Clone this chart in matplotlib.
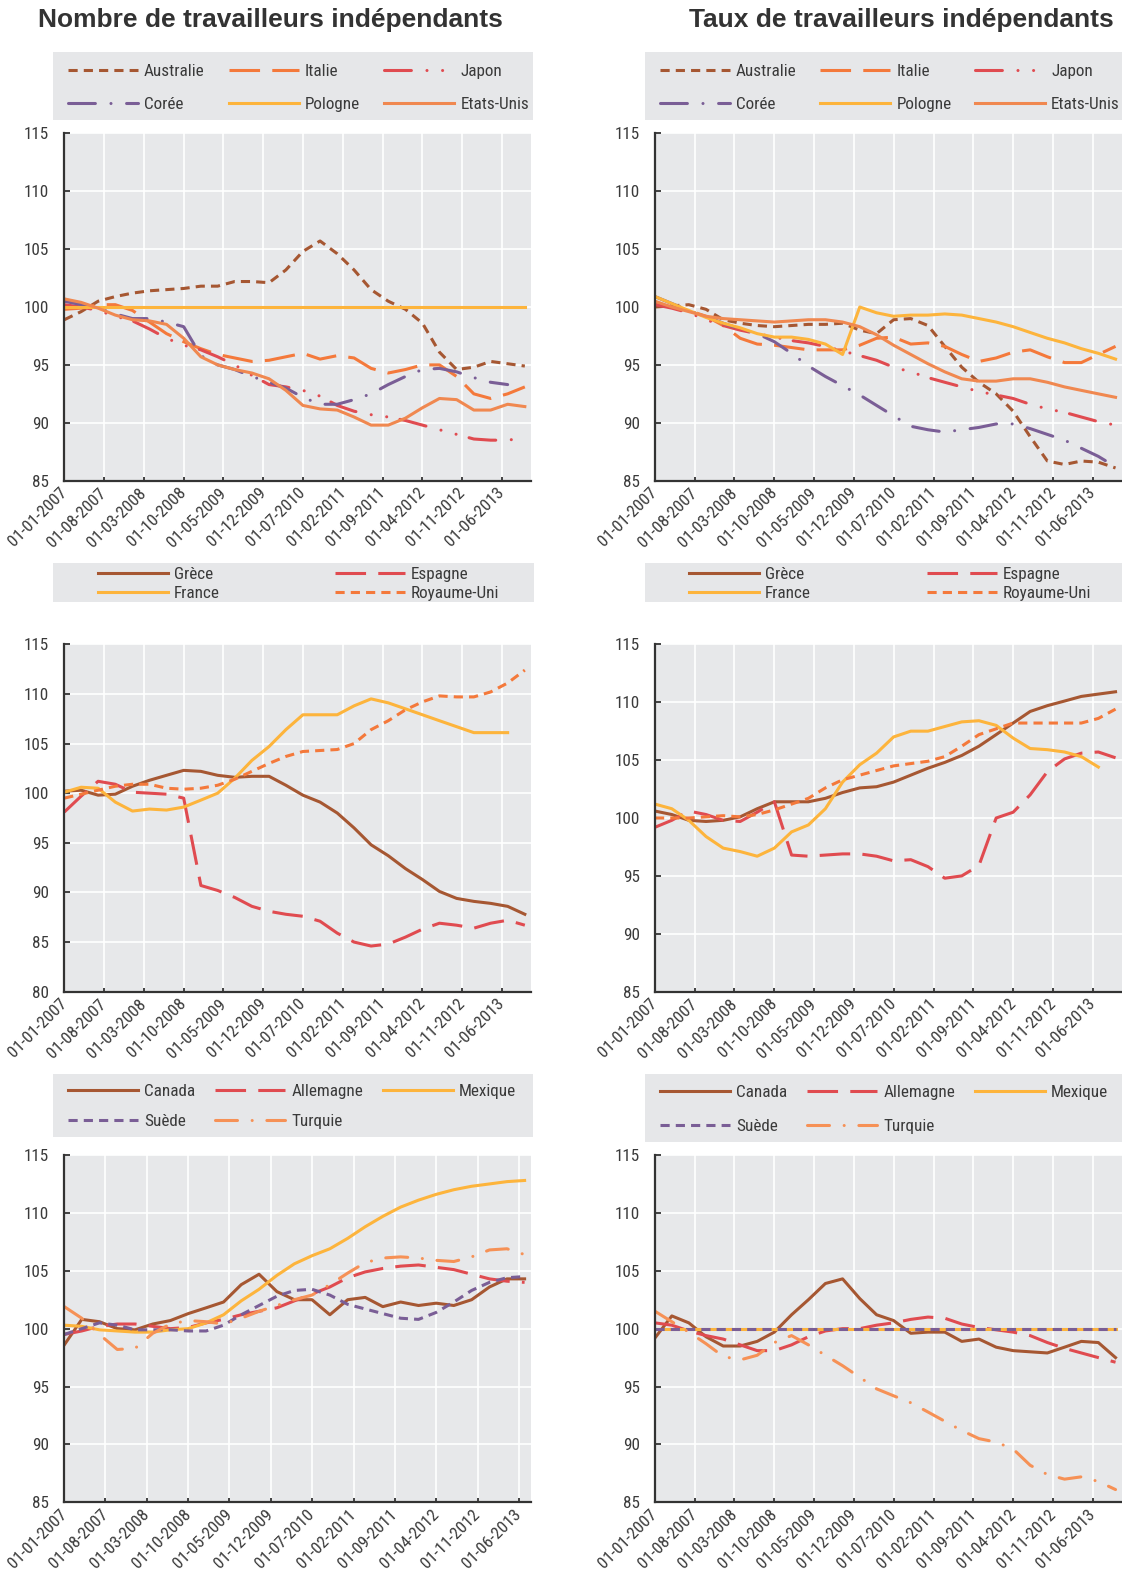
import numpy as np
import pandas as pd
import matplotlib
matplotlib.use("Agg")
import matplotlib.pyplot as plt
from matplotlib import font_manager as fm
from matplotlib.patches import Rectangle
from matplotlib.transforms import ScaledTranslation

# ---------------- fonts ----------------
names = {f.name for f in fm.fontManager.ttflist}
NARROW = next((n for n in ["Liberation Sans Narrow", "Arial Narrow", "Roboto Condensed",
                           "Open Sans Condensed"] if n in names), None)
REG = "Liberation Sans" if "Liberation Sans" in names else "DejaVu Sans"
BODY = NARROW if NARROW else REG
FS = 12.3 if NARROW else 10.3
plt.rcParams["font.family"] = [BODY, "DejaVu Sans"]

# ---------------- data ----------------
dates = pd.date_range("2007-01-01", periods=28, freq="QS")
dates27 = dates[:27]
tick_dates = pd.date_range("2007-01-01", periods=12, freq="7MS")
tick_labels = [d.strftime("%d-%m-%Y") for d in tick_dates]

# Panel 1 : Nombre (group 1)
aus_n = [98.9, 99.6, 100.5, 100.9, 101.2, 101.4, 101.5, 101.6, 101.8, 101.8, 102.2, 102.2, 102.1, 103.2,
         104.8, 105.7, 104.6, 103.2, 101.5, 100.5, 99.8, 98.6, 96.1, 94.6, 94.8, 95.3, 95.1, 94.9]
ita_n = [99.8, 99.9, 100.2, 100.2, 99.7, 98.7, 97.7, 97.0, 96.4, 95.9, 95.6, 95.3, 95.4, 95.7,
         96.0, 95.5, 95.8, 95.6, 94.7, 94.3, 94.6, 95.0, 95.0, 94.0, 92.5, 92.1, 92.5, 93.1]
jap_n = [100.2, 100.0, 99.7, 99.2, 98.8, 98.1, 97.3, 96.7, 96.3, 95.7, 95.0, 94.1, 93.3, 93.1,
         92.8, 92.3, 91.5, 91.0, 90.7, 90.5, 90.2, 89.8, 89.4, 89.0, 88.6, 88.5, 88.5, 88.7]
kor_n = [100.5, 100.2, 99.9, 99.4, 99.0, 99.0, 98.7, 98.3, 95.8, 95.0, 94.6, 94.0, 93.5, 93.0,
         92.2, 91.6, 91.6, 92.0, 92.5, 93.3, 94.0, 94.6, 94.7, 94.4, 93.9, 93.5, 93.3, np.nan]
pol_n = [100.0] * 28
usa_n = [100.7, 100.4, 99.9, 99.3, 98.9, 98.8, 98.5, 97.3, 95.7, 95.0, 94.6, 94.3, 93.8, 92.8,
         91.5, 91.2, 91.1, 90.5, 89.8, 89.8, 90.4, 91.3, 92.1, 92.0, 91.1, 91.1, 91.6, 91.4]

# Panel 2 : Taux (group 1)
aus_t = [100.0, 100.1, 100.2, 99.8, 98.9, 98.6, 98.4, 98.3, 98.4, 98.5, 98.5, 98.6, 98.0, 97.7,
         98.9, 99.0, 98.4, 96.6, 94.8, 93.5, 92.5, 91.0, 88.8, 86.7, 86.4, 86.7, 86.6, 86.1]
ita_t = [100.3, 100.0, 99.7, 99.2, 98.4, 97.3, 96.8, 96.7, 96.5, 96.3, 96.3, 96.3, 96.7, 97.3,
         97.4, 96.8, 96.9, 96.6, 95.9, 95.3, 95.6, 96.1, 96.3, 95.7, 95.2, 95.2, 95.9, 96.6]
jap_t = [100.2, 99.9, 99.5, 98.9, 98.4, 98.0, 97.7, 97.4, 97.1, 96.9, 96.6, 96.2, 95.8, 95.4,
         94.8, 94.4, 93.9, 93.5, 93.1, 92.7, 92.4, 92.1, 91.6, 91.2, 90.9, 90.5, 90.1, 89.8]
kor_t = [100.9, 100.3, 99.7, 99.2, 98.6, 98.1, 97.7, 97.0, 96.0, 94.9, 94.0, 93.2, 92.4, 91.5,
         90.6, 89.7, 89.4, 89.2, 89.4, 89.6, 89.9, 89.9, 89.5, 89.0, 88.5, 87.8, 87.1, 86.2]
pol_t = [100.9, 100.3, 99.7, 99.1, 98.6, 98.2, 97.7, 97.4, 97.4, 97.2, 96.8, 95.9, 100.0, 99.5,
         99.2, 99.3, 99.3, 99.4, 99.3, 99.0, 98.7, 98.3, 97.8, 97.3, 96.9, 96.4, 96.0, 95.5]
usa_t = [100.5, 100.0, 99.6, 99.2, 99.0, 98.9, 98.8, 98.7, 98.8, 98.9, 98.9, 98.7, 98.3, 97.6,
         96.7, 95.9, 95.1, 94.4, 93.8, 93.6, 93.6, 93.8, 93.8, 93.5, 93.1, 92.8, 92.5, 92.2]

# Panel 3 : Nombre (group 2)
gre_n = [100.2, 100.3, 99.8, 99.9, 100.7, 101.3, 101.8, 102.3, 102.2, 101.8, 101.6, 101.7, 101.7, 100.8,
         99.8, 99.1, 98.0, 96.5, 94.8, 93.7, 92.4, 91.3, 90.1, 89.4, 89.1, 88.9, 88.6, 87.8]
esp_n = [98.1, 99.7, 101.2, 100.9, 100.1, 100.0, 99.9, 99.5, 90.7, 90.2, 89.5, 88.6, 88.1, 87.8,
         87.6, 87.1, 85.9, 85.0, 84.6, 84.8, 85.5, 86.3, 86.9, 86.7, 86.4, 86.9, 87.2, 86.7]
fra_n = [100.1, 100.6, 100.5, 99.1, 98.2, 98.4, 98.3, 98.6, 99.3, 100.0, 101.5, 103.3, 104.7, 106.4,
         107.9, 107.9, 107.9, 108.8, 109.5, 109.1, 108.5, 107.9, 107.3, 106.7, 106.1, 106.1, 106.1, np.nan]
uk_n = [99.5, 99.9, 100.3, 100.7, 100.9, 100.9, 100.5, 100.4, 100.5, 100.8, 101.4, 102.2, 103.0, 103.7,
        104.2, 104.3, 104.4, 105.0, 106.4, 107.3, 108.4, 109.2, 109.8, 109.7, 109.7, 110.2, 111.1, 112.4]

# Panel 4 : Taux (group 2)
gre_t = [100.6, 100.3, 99.8, 99.7, 99.8, 100.1, 100.8, 101.4, 101.4, 101.4, 101.7, 102.2, 102.6, 102.7,
         103.1, 103.7, 104.3, 104.8, 105.4, 106.2, 107.2, 108.2, 109.2, 109.7, 110.1, 110.5, 110.7, 110.9]
esp_t = [99.2, 99.8, 100.6, 100.3, 99.8, 99.7, 100.5, 101.4, 96.8, 96.7, 96.8, 96.9, 96.9, 96.7,
         96.3, 96.4, 95.8, 94.8, 95.0, 95.9, 100.0, 100.5, 102.0, 104.0, 105.1, 105.6, 105.7, 105.2]
fra_t = [101.2, 100.8, 99.8, 98.4, 97.4, 97.1, 96.7, 97.4, 98.8, 99.4, 100.8, 103.1, 104.6, 105.6,
         107.0, 107.5, 107.5, 107.9, 108.3, 108.4, 108.0, 106.9, 106.0, 105.9, 105.7, 105.3, 104.4, np.nan]
uk_t = [100.0, 100.0, 100.0, 100.1, 100.2, 100.1, 100.3, 100.7, 101.2, 101.7, 102.6, 103.3, 103.7, 104.1,
        104.5, 104.7, 104.9, 105.3, 106.2, 107.2, 107.7, 108.2, 108.2, 108.2, 108.2, 108.2, 108.6, 109.4]

# Panel 5 : Nombre (group 3), 27 quarters
can_n = [98.6, 100.8, 100.6, 100.0, 99.9, 100.4, 100.7, 101.3, 101.8, 102.3, 103.8, 104.7, 103.2, 102.5,
         102.5, 101.2, 102.5, 102.7, 101.9, 102.3, 102.0, 102.2, 102.0, 102.5, 103.6, 104.3, 104.3]
all_n = [99.5, 99.8, 100.2, 100.4, 100.4, 100.2, 100.0, 100.1, 100.5, 100.8, 101.2, 101.5, 101.8, 102.4,
         103.0, 103.6, 104.4, 104.9, 105.2, 105.4, 105.5, 105.3, 105.1, 104.7, 104.3, 104.1, 104.0]
mex_n = [100.3, 100.2, 99.9, 99.8, 99.7, 99.7, 99.9, 100.0, 100.5, 101.2, 102.4, 103.4, 104.6, 105.6,
         106.3, 106.9, 107.8, 108.8, 109.7, 110.5, 111.1, 111.6, 112.0, 112.3, 112.5, 112.7, 112.8]
swe_n = [99.5, 100.0, 100.5, 100.3, 99.9, 99.9, 99.9, 99.8, 99.8, 100.3, 101.2, 102.0, 102.8, 103.3,
         103.4, 102.9, 102.1, 101.7, 101.3, 100.9, 100.8, 101.4, 102.3, 103.3, 104.0, 104.4, 104.5]
tur_n = [101.9, 100.9, 99.5, 98.2, 98.3, 99.6, 100.4, 100.7, 100.6, 100.4, 100.9, 101.5, 102.0, 102.5,
         102.9, 103.8, 104.8, 105.7, 106.1, 106.2, 106.1, 105.9, 105.8, 106.2, 106.8, 106.9, 106.4]

# Panel 6 : Taux (group 3)
can_t = [99.2, 101.1, 100.5, 99.3, 98.5, 98.5, 98.9, 99.7, 101.2, 102.5, 103.9, 104.3, 102.6, 101.2,
         100.7, 99.6, 99.7, 99.7, 98.9, 99.1, 98.4, 98.1, 98.0, 97.9, 98.4, 98.9, 98.8, 97.5]
all_t = [100.5, 100.3, 99.8, 99.4, 99.1, 98.6, 98.1, 98.1, 98.6, 99.3, 99.8, 100.0, 100.0, 100.3,
         100.5, 100.8, 101.0, 100.9, 100.4, 100.1, 99.9, 99.7, 99.4, 98.8, 98.3, 97.9, 97.5, 97.1]
mex_t = [100.0] * 28
swe_t = [100.0] * 28
tur_t = [101.5, 100.6, 99.7, 98.7, 97.6, 97.3, 97.7, 98.8, 99.4, 98.6, 97.7, 96.8, 95.8, 94.8,
         94.2, 93.6, 92.8, 92.0, 91.2, 90.5, 90.2, 89.6, 88.2, 87.4, 87.0, 87.2, 86.8, 86.1]

titles = ["Nombre de travailleurs indépendants", "Taux de travailleurs indépendants"]

# ---------------- styles ----------------
BROWN = "#a65732"
ORANGE = "#f4793b"
RED = "#e04b50"
PURPLE = "#7a5e96"
YELLOW = "#fdb43c"
ORANGE2 = "#f08850"
LORANGE = "#f69156"
BG = "#e7e8ea"
LEGBG = "#e6e7e9"
DARK = "#333333"
TXT = "#3a3a3a"
LW = 2.2

SHORT = dict(dashes=[3, 2])
LONG = dict(dashes=[10, 4])
DASHDOT2 = dict(dashes=[8.8, 5.1, 0.01, 5.1, 0.01, 4.4], dash_capstyle="round")
DASHDOT = dict(dashes=[8.8, 5.1, 0.01, 5.1], dash_capstyle="round")
DASHDOT_T = dict(dashes=[7.2, 4.8, 0.01, 4.8], dash_capstyle="round")
SOLID = dict()

W, H = 1122, 1574
fig = plt.figure(figsize=(W / 100, H / 100), dpi=100)

START = pd.Timestamp("2007-01-01")
END_A = pd.Timestamp("2013-11-03")
END_B = pd.Timestamp("2013-08-03")

AXW = 466.7


def make_ax(left, top, bottom):
    return fig.add_axes([left / W, 1 - bottom / H, AXW / W, (bottom - top) / H])


def style(ax, ylim, xend):
    ax.set_facecolor(BG)
    ax.set_ylim(*ylim)
    ax.set_yticks(np.arange(ylim[0], ylim[1] + 1, 5))
    ax.set_xlim(START, xend)
    ax.set_xticks(tick_dates)
    ax.set_xticklabels(tick_labels, rotation=45, ha="right", va="center",
                       rotation_mode="anchor")
    shift = ScaledTranslation(3 / 100, 0, fig.dpi_scale_trans)
    for lab in ax.get_xticklabels():
        lab.set_transform(lab.get_transform() + shift)
    ax.grid(True, color="white", lw=1.2)
    ax.set_axisbelow(True)
    for s in ["top", "right"]:
        ax.spines[s].set_visible(False)
    for s in ["left", "bottom"]:
        ax.spines[s].set_color(DARK)
        ax.spines[s].set_linewidth(1.6)
    ax.tick_params(axis="x", direction="in", length=3, width=1.3, color=DARK, pad=7,
                   labelsize=FS, labelcolor=TXT)
    ax.tick_params(axis="y", direction="in", length=4.5, width=1.3, color=DARK, pad=10.8,
                   labelsize=FS, labelcolor=TXT)


def draw(ax, x, series):
    hs = {}
    for name, vals, color, st in series:
        (h,) = ax.plot(x, vals, color=color, lw=LW, label=name, **st)
        hs[name] = h
    return hs


def legend_box(x0, x1, y0, y1):
    fig.add_artist(Rectangle((x0 / W, 1 - y1 / H), (x1 - x0) / W, (y1 - y0) / H,
                             transform=fig.transFigure, facecolor=LEGBG,
                             edgecolor="none", zorder=0))


def legend(hs, order, ncol, x0, x1, yc, lsp):
    fig.legend([hs[n] for n in order], order, loc="center",
               bbox_to_anchor=(x0 / W, 1 - yc / H, (x1 - x0) / W, 0), mode="expand",
               ncol=ncol, frameon=False, fontsize=FS, handlelength=4.1,
               handletextpad=0.35, labelspacing=lsp, borderpad=0, borderaxespad=0,
               columnspacing=0.5, labelcolor=TXT)


OFF = 590.7

# ---------- row 1 ----------
g1 = [("Australie", SHORT, BROWN), ("Italie", LONG, ORANGE), ("Japon", DASHDOT2, RED),
      ("Corée", DASHDOT, PURPLE), ("Pologne", SOLID, YELLOW), ("Etats-Unis", SOLID, ORANGE2)]
order1 = ["Australie", "Corée", "Italie", "Pologne", "Japon", "Etats-Unis"]
for i, vals in enumerate([[aus_n, ita_n, jap_n, kor_n, pol_n, usa_n],
                          [aus_t, ita_t, jap_t, kor_t, pol_t, usa_t]]):
    ax = make_ax(64.3 + i * OFF, 133.3, 480.7)
    style(ax, (85, 115), END_A)
    hs = draw(ax, dates, [(n, v, c, st) for (n, st, c), v in zip(g1, vals)])
    legend_box(53 + i * 592, 533 if i == 0 else 1122, 51.7, 120)
    legend(hs, order1, 3, 68 + i * 592, 529 + i * 591, 87.8, 1.08)

# ---------- row 2 ----------
g2 = [("Grèce", SOLID, BROWN), ("Espagne", LONG, RED), ("France", SOLID, YELLOW),
      ("Royaume-Uni", SHORT, ORANGE)]
order2 = ["Grèce", "France", "Espagne", "Royaume-Uni"]
for i, (vals, ylim) in enumerate([([gre_n, esp_n, fra_n, uk_n], (80, 115)),
                                  ([gre_t, esp_t, fra_t, uk_t], (85, 115))]):
    ax = make_ax(64.3 + i * OFF, 644.3, 991.7)
    style(ax, ylim, END_A)
    hs = draw(ax, dates, [(n, v, c, st) for (n, st, c), v in zip(g2, vals)])
    legend_box(53 + i * 592, 534 if i == 0 else 1122, 563, 601.7)
    legend(hs, order2, 2, 98 + i * 591, 499 + i * 592, 583.8, 0.25)

# ---------- row 3 ----------
g3 = [("Canada", SOLID, BROWN), ("Allemagne", LONG, RED), ("Mexique", SOLID, YELLOW),
      ("Suède", SHORT, PURPLE), ("Turquie", DASHDOT_T, LORANGE)]
order3 = ["Canada", "Suède", "Allemagne", "Turquie", "Mexique"]
# left
ax = make_ax(64.3, 1155, 1502.3)
style(ax, (85, 115), END_B)
hs = draw(ax, dates27, [(n, v, c, st) for (n, st, c), v in zip(g3, [can_n, all_n, mex_n, swe_n, tur_n])])
legend_box(53, 533, 1074.3, 1136.7)
legend(hs, order3, 3, 68, 516, 1106.5, 0.86)
# right
ax = make_ax(64.3 + OFF, 1155, 1502.3)
style(ax, (85, 115), END_A)
hs = draw(ax, dates, [(n, v, c, st) for (n, st, c), v in zip(g3, [can_t, all_t, mex_t, swe_t, tur_t])])
legend_box(645, 1122, 1074, 1142)
legend(hs, order3, 3, 660, 1108, 1109.5, 1.06)

# ---------- titles ----------
fig.text(270 / W, 1 - 19.5 / H, titles[0], ha="center", va="center", fontsize=19,
         fontweight="bold", color=DARK, family=[REG, "DejaVu Sans"])
fig.text(901 / W, 1 - 19.5 / H, titles[1], ha="center", va="center", fontsize=19,
         fontweight="bold", color=DARK, family=[REG, "DejaVu Sans"])

fig.savefig("out.png", dpi=100)
